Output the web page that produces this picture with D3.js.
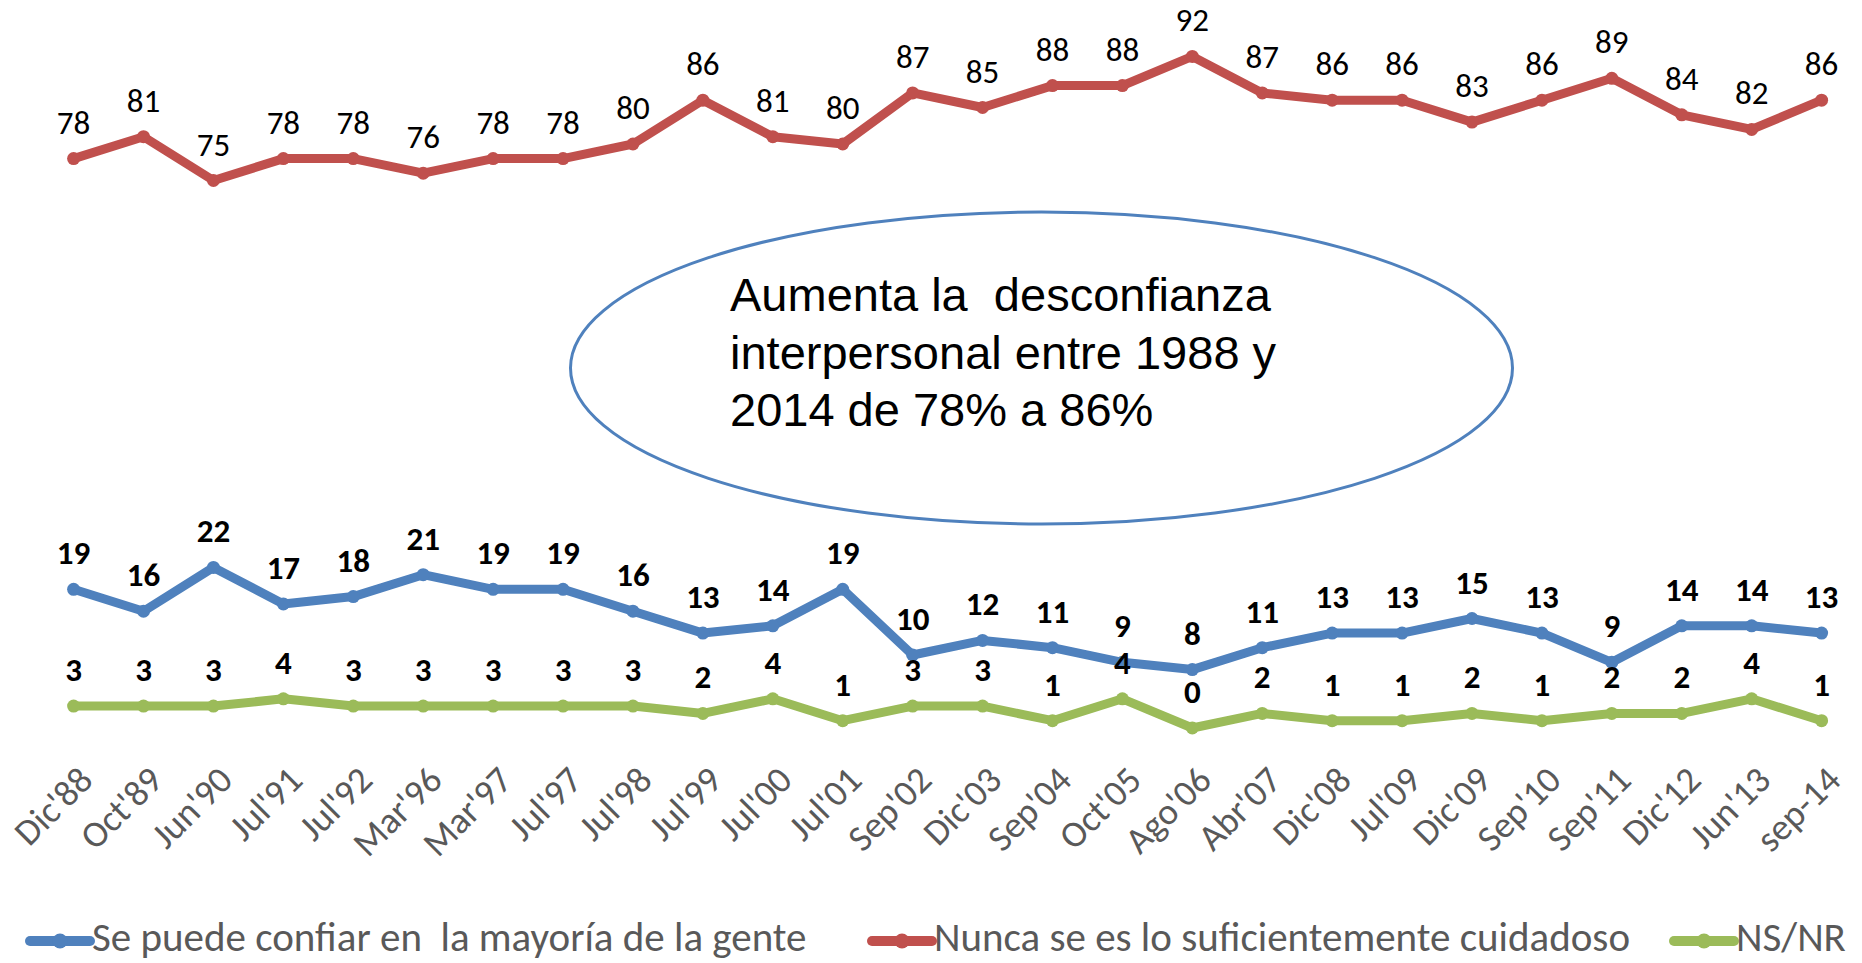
<!DOCTYPE html>
<html>
<head>
<meta charset="utf-8">
<script src="https://cdn.jsdelivr.net/npm/d3@7/dist/d3.min.js"></script>
<style>
  html, body { margin: 0; padding: 0; background: #ffffff; overflow: hidden; }
  svg { display: block; }
  text { white-space: pre; }
</style>
</head>
<body>
<svg id="chart" width="1862" height="963"></svg>
<script>
// ---------------- DATA ----------------
const categories = ["Dic'88","Oct'89","Jun'90","Jul'91","Jul'92","Mar'96","Mar'97","Jul'97","Jul'98","Jul'99",
  "Jul'00","Jul'01","Sep'02","Dic'03","Sep'04","Oct'05","Ago'06","Abr'07","Dic'08","Jul'09",
  "Dic'09","Sep'10","Sep'11","Dic'12","Jun'13","sep-14"];

const confiar   = [19,16,22,17,18,21,19,19,16,13,14,19,10,12,11,9,8,11,13,13,15,13,9,14,14,13];
const cuidadoso = [78,81,75,78,78,76,78,78,80,86,81,80,87,85,88,88,92,87,86,86,83,86,89,84,82,86];
const nsnr      = [3,3,3,4,3,3,3,3,3,2,4,1,3,3,1,4,0,2,1,1,2,1,2,2,4,1];

const seriesNames = ["Se puede confiar en  la mayoría de la gente",
                     "Nunca se es lo suficientemente cuidadoso",
                     "NS/NR"];
const calloutLines = ["Aumenta la  desconfianza",
                      "interpersonal entre 1988 y",
                      "2014 de 78% a 86%"];

// ---------------- STYLE ----------------
const colors = ["#4f81bd", "#c0504d", "#9bbb59"];
const labelWeights = ["bold", "normal", "bold"];
const FONT = "Carlito, Calibri, Lato, 'Open Sans', sans-serif";

const svg = d3.select("#chart");
svg.append("rect").attr("width", 1862).attr("height", 963).attr("fill", "#fff");

const x = d3.scalePoint().domain(categories).range([73.6, 1821.6]);
const y = d3.scaleLinear().domain([0, 100]).range([728, -2]);

const series = [confiar, cuidadoso, nsnr].map((vals, k) => ({
  name: seriesNames[k], color: colors[k], weight: labelWeights[k],
  points: vals.map((v, i) => ({ cat: categories[i], v }))
}));

// ---------------- X AXIS ----------------
const xAxis = d3.axisBottom(x).tickSize(0).tickPadding(0);
const gx = svg.append("g").call(xAxis);
gx.select(".domain").remove();
gx.selectAll(".tick").attr("transform", d => `translate(${x(d) + 12},773)`);
gx.selectAll(".tick text")
  .attr("x", 0).attr("y", 0).attr("dy", "0.35em")
  .attr("transform", "rotate(-45)")
  .attr("text-anchor", "end")
  .attr("fill", "#595959")
  .style("font-family", FONT)
  .style("font-size", "37px");

// ---------------- CALLOUT ELLIPSE ----------------
const callout = svg.append("g");
callout.append("ellipse")
  .attr("cx", 1041.5).attr("cy", 368).attr("rx", 471).attr("ry", 156)
  .attr("fill", "none").attr("stroke", "#4f81bd").attr("stroke-width", 3);
callout.selectAll("text").data(calloutLines).join("text")
  .attr("x", 730)
  .attr("y", (d, i) => 311 + i * 57.5)
  .attr("fill", "#000")
  .style("font-family", "'Liberation Sans', Arial, sans-serif")
  .style("font-size", "47px")
  .text(d => d);

// ---------------- LINES ----------------
const line = d3.line().x(d => x(d.cat)).y(d => y(d.v));
const gs = svg.selectAll("g.series").data(series).join("g").attr("class", "series");
gs.append("path")
  .attr("d", d => line(d.points))
  .attr("fill", "none")
  .attr("stroke", d => d.color)
  .attr("stroke-width", 9)
  .attr("stroke-linejoin", "round");
gs.each(function (s) {
  const g = d3.select(this);
  g.selectAll("circle").data(s.points).join("circle")
    .attr("cx", d => x(d.cat)).attr("cy", d => y(d.v)).attr("r", 6.5)
    .attr("fill", s.color);
  g.selectAll("text.lbl").data(s.points).join("text")
    .attr("class", "lbl")
    .attr("x", d => x(d.cat))
    .attr("y", d => y(d.v) - 25)
    .attr("text-anchor", "middle")
    .attr("fill", "#000")
    .style("font-family", FONT)
    .style("font-weight", s.weight)
    .style("font-size", "33px")
    .text(d => d.v);
});

// ---------------- LEGEND ----------------
const legendX = [30, 872, 1674];
const lg = svg.selectAll("g.legend").data(series).join("g")
  .attr("class", "legend")
  .attr("transform", (d, i) => `translate(${legendX[i]},941)`);
lg.append("line").attr("x1", 0).attr("x2", 60).attr("y1", 0).attr("y2", 0)
  .attr("stroke", d => d.color).attr("stroke-width", 10).attr("stroke-linecap", "round");
lg.append("circle").attr("cx", 30).attr("cy", 0).attr("r", 7.5).attr("fill", d => d.color);
lg.append("text").attr("x", 62).attr("y", 10)
  .attr("fill", "#595959")
  .style("font-family", FONT)
  .style("font-size", "41px")
  .text(d => d.name);
</script>
</body>
</html>
